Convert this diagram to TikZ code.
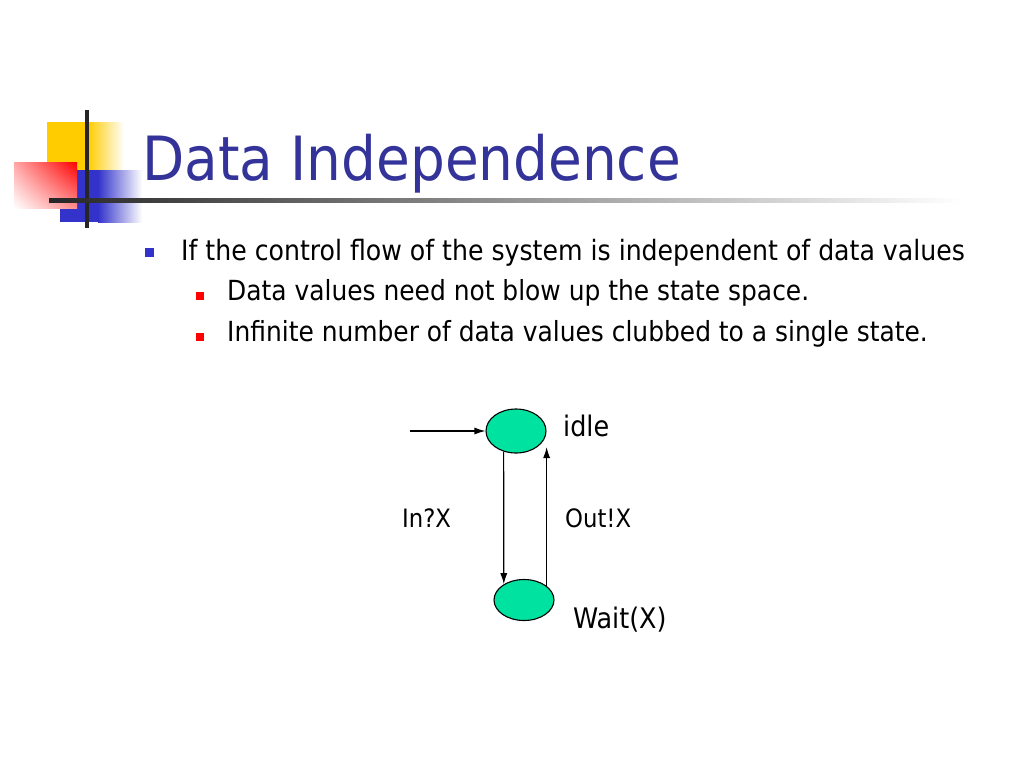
\documentclass[tikz,border=0pt]{standalone}
\usepackage{fontspec}
\setmainfont{DejaVu Sans Condensed}
\usetikzlibrary{arrows.meta,shapes.geometric,calc,shadings}
\definecolor{titleblue}{RGB}{51,51,153}
\definecolor{bulblue}{RGB}{51,51,204}
\definecolor{mint}{RGB}{0,226,160}
\definecolor{logoyellow}{RGB}{255,204,0}
\definecolor{logored}{RGB}{255,0,0}
\begin{document}
\begin{tikzpicture}[x=1pt,y=-1pt,
  bodytext/.style={anchor=base west, inner sep=0pt, font=\fontsize{28}{32}\selectfont},
  subtext/.style={anchor=base west, inner sep=0pt, font=\fontsize{27.7}{32}\selectfont},
  labeltext/.style={anchor=base west, inner sep=0pt, font=\fontsize{25.3}{30}\selectfont},
  statetext/.style={anchor=base west, inner sep=0pt, font=\fontsize{28.3}{32}\selectfont},
  bulletA/.style={fill=bulblue, minimum size=9pt, inner sep=0pt, draw=none},
  bulletB/.style={fill=logored, minimum size=8pt, inner sep=0pt, draw=none},
  stateshape/.style={ellipse, draw=black, line width=1.1pt, fill=mint, inner sep=0pt},
  arr/.style={draw=black, line width=1.2pt, -{Latex[length=11pt,width=7pt]}}]
\useasboundingbox[fill=white] (0,0) rectangle (1024,768);
% logo
\fill[logoyellow] (47,122) rectangle (88,171);
\shade[left color=logoyellow, right color=white] (88,122) rectangle (124,171);
\fill[bulblue] (60,170) rectangle (98,222);
\shade[left color=bulblue, right color=white] (98,170) rectangle (142,222);
\shade[upper left=logored!35, upper right=logored, lower left=white, lower right=logored!45] (14,162) rectangle (77,208);
\draw[line width=3.5pt, black!85] (87,110) -- (87,228);
\shade[left color=black!85, right color=white] (49,198) rectangle (962,202);
% title
\node[anchor=base west, inner sep=0pt, text=titleblue, font=\fontsize{61}{70}\selectfont] (title) at (142,180) {Data Independence};
% bullets
\node[bulletA] (b1) at (149,252.5) {};
\node[bodytext] (t1) at (181,260) {If the control flow of the system is independent of data values};
\node[bulletB] (b2) at (199.5,295.5) {};
\node[subtext] (t2) at (227,300) {Data values need not blow up the state space.};
\node[bulletB] (b3) at (199.5,337) {};
\node[subtext] (t3) at (227,341) {Infinite number of data values clubbed to a single state.};
% diagram
\node[stateshape, minimum width=60pt, minimum height=44pt] (s1) at (516,431) {};
\node[stateshape, minimum width=60pt, minimum height=41pt] (s2) at (524,600) {};
\coordinate (start) at (410,431);
\draw[arr] (start) -- (s1.west);
\draw[arr] (s1.239.2) -- (s2.142.6);
\draw[arr] (s2.32.3) -- ($(s2.32.3 |- s1.center)+(0,16)$);
\node[statetext] (l1) at (563,436) {idle};
\node[labeltext] (l2) at (402,527) {In?X};
\node[labeltext] (l3) at (565,527) {Out!X};
\node[statetext] (l4) at (573,628) {Wait(X)};
\end{tikzpicture}
\end{document}
